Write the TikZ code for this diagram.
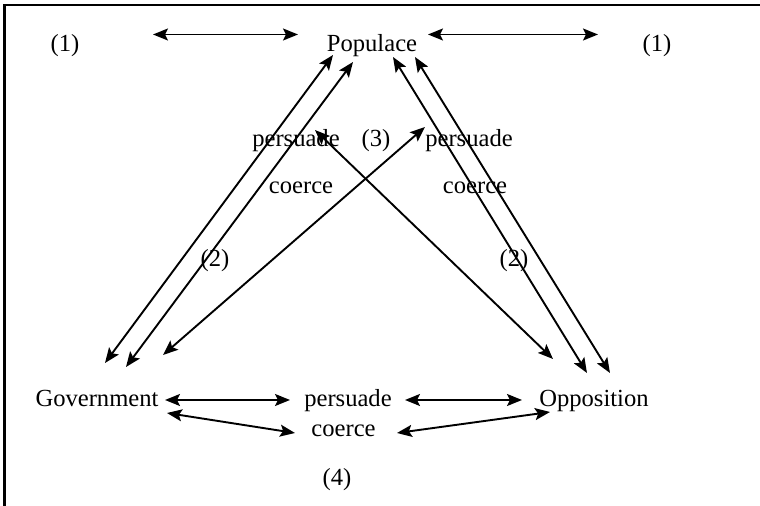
\documentclass[tikz,border=0pt]{standalone}
\usepackage{fontspec}
\setmainfont{Liberation Serif}
\usetikzlibrary{arrows.meta}
\tikzset{
  lbl/.style={anchor=base, inner sep=0pt},
  arr/.style={{Stealth[length=7.5pt,width=6pt,inset=1.5pt]}-{Stealth[length=7.5pt,width=6pt,inset=1.5pt]}, line width=0.95pt},
  frame/.style={line width=1.1pt}
}
\begin{document}
\begin{tikzpicture}[x=0.5pt,y=-0.5pt,font=\fontsize{12.3}{14}\selectfont]
\clip (0,0) rectangle (760,506);
\draw[frame] (4.5,5) rectangle (770,520);
% labels
\node[lbl] (one1) at (65,52) {(1)};
\node[lbl] (pop) at (372,52) {Populace};
\node[lbl] (one2) at (657,52) {(1)};
\node[lbl] (persL) at (296,147) {persuade};
\node[lbl] (three) at (376,147) {(3)};
\node[lbl] (persR) at (469,147) {persuade};
\node[lbl] (coeL) at (301,194) {coerce};
\node[lbl] (coeR) at (475,194) {coerce};
\node[lbl] (twoL) at (215,267) {(2)};
\node[lbl] (twoR) at (514,267) {(2)};
\node[lbl] (gov) at (97,407) {Government};
\node[lbl] (persB) at (348,407) {persuade};
\node[lbl] (opp) at (594,407) {Opposition};
\node[lbl] (coeB) at (343.5,437) {coerce};
\node[lbl] (four) at (337,486) {(4)};
% arrow ends
\coordinate (h1a) at (153,34.5); \coordinate (h1b) at (298,34.5);
\coordinate (h2a) at (428,34.5); \coordinate (h2b) at (598,34.5);
\coordinate (lo1) at (333,55);   \coordinate (lo2) at (105,363);
\coordinate (li1) at (353,62);   \coordinate (li2) at (126,367);
\coordinate (t1) at (163,355);   \coordinate (t2) at (425,127);
\coordinate (c1) at (315,130);   \coordinate (c2) at (553,359);
\coordinate (ri1) at (393,57);   \coordinate (ri2) at (587,373);
\coordinate (ro1) at (415,57);   \coordinate (ro2) at (610,373);
\coordinate (b1) at (165,400);   \coordinate (b2) at (290,400);
\coordinate (b3) at (405,400);   \coordinate (b4) at (522,400);
\coordinate (k1) at (167,413);   \coordinate (k2) at (295,433);
\coordinate (k3) at (397,433);   \coordinate (k4) at (550,412);
% arrows
\draw[arr] (h1a) -- (h1b);
\draw[arr] (h2a) -- (h2b);
\draw[arr] (lo1) -- (lo2);
\draw[arr] (li1) -- (li2);
\draw[arr] (t1) -- (t2);
\draw[arr] (c1) -- (c2);
\draw[arr] (ri1) -- (ri2);
\draw[arr] (ro1) -- (ro2);
\draw[arr] (b1) -- (b2);
\draw[arr] (b3) -- (b4);
\draw[arr] (k1) -- (k2);
\draw[arr] (k3) -- (k4);
\end{tikzpicture}
\end{document}
